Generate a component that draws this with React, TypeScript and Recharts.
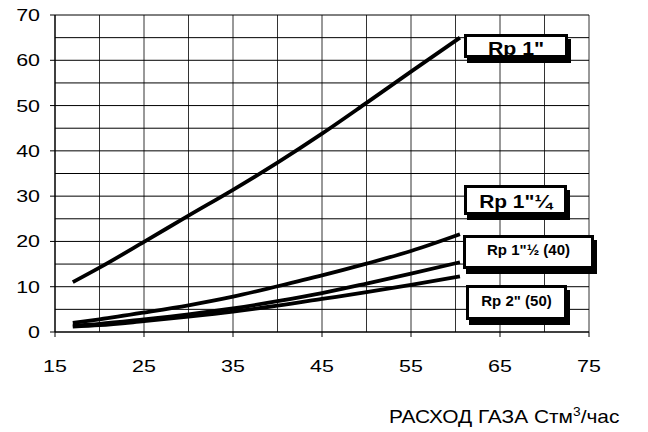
import { LineChart, Line, XAxis, YAxis, ReferenceLine } from "recharts";

// gas flow, m3/h
const flow = [17, 20, 25, 30, 35, 40, 45, 50, 55, 60.5];
const rp1 = [11.0, 14.2, 19.9, 25.7, 31.4, 37.4, 43.8, 50.6, 57.5, 65.0];
const rp114 = [2.0, 2.8, 4.3, 5.9, 7.8, 10.1, 12.5, 15.1, 17.9, 21.6];
const rp112 = [1.4, 1.8, 2.8, 3.9, 5.2, 6.8, 8.6, 10.7, 12.9, 15.4];
const rp2 = [1.2, 1.5, 2.4, 3.4, 4.5, 5.8, 7.3, 8.8, 10.4, 12.3];

const xTicks = [15, 25, 35, 45, 55, 65, 75];
const yTicks = [0, 10, 20, 30, 40, 50, 60, 70];
const xGrid = [20, 25, 30, 35, 40, 45, 50, 55, 60, 65, 70, 75];
const yGrid = [5, 10, 15, 20, 25, 30, 35, 40, 45, 50, 55, 60, 65, 70];

const seriesNames = ["rp1", "rp114", "rp112", "rp2"];

const data = flow.map((x, i) => ({
  x,
  rp1: rp1[i],
  rp114: rp114[i],
  rp112: rp112[i],
  rp2: rp2[i],
}));

const boxes = [
  { text: 'Rp 1"', left: 464, top: 34, w: 104, h: 24, cy: 48.5, fs: 18.5, sx: 1.15 },
  { text: 'Rp 1"¼', left: 464, top: 185, w: 103, h: 30, cy: 201.5, fs: 18.5, sx: 1.13 },
  { text: 'Rp 1"½ (40)', left: 463, top: 235, w: 131, h: 34, cy: 250, fs: 15, sx: 1 },
  { text: 'Rp 2" (50)', left: 466, top: 285, w: 101, h: 35, cy: 301, fs: 15, sx: 1 },
];

const font = "'Liberation Sans', Arial, sans-serif";

const YTick = (props: any) => {
  const { x, y, payload } = props;
  return (
    <text
      x={0}
      y={0}
      transform={`translate(${x},${y}) scale(1.3,1)`}
      textAnchor="end"
      dy="0.36em"
      fontSize={16.5}
      fontFamily={font}
      fill="#000"
    >
      {payload.value}
    </text>
  );
};

const XTick = (props: any) => {
  const { x, y, payload } = props;
  return (
    <text
      x={0}
      y={0}
      transform={`translate(${x},${y}) scale(1.3,1)`}
      textAnchor="middle"
      dy="0.71em"
      fontSize={16.5}
      fontFamily={font}
      fill="#000"
    >
      {payload.value}
    </text>
  );
};

export default function App() {
  return (
    <div style={{ position: "absolute", left: 0, top: 0, width: 648, height: 432, background: "#fff", fontFamily: font }}>
      <LineChart width={648} height={432} data={data} margin={{ top: 15, right: 59, left: 0, bottom: 50 }}>
        <XAxis
          dataKey="x"
          type="number"
          domain={[15, 75]}
          ticks={xTicks}
          height={50}
          tickSize={5}
          tickMargin={23}
          tick={<XTick />}
          axisLine={{ stroke: "#000", strokeWidth: 1.5 }}
          tickLine={{ stroke: "#000" }}
        />
        <YAxis
          type="number"
          domain={[0, 70]}
          ticks={yTicks}
          width={55}
          tickSize={5}
          tickMargin={10}
          tick={<YTick />}
          axisLine={{ stroke: "#000", strokeWidth: 1.5 }}
          tickLine={{ stroke: "#000" }}
        />
        {xGrid.map((v) => (
          <ReferenceLine key={"gx" + v} x={v} stroke="#333" strokeWidth={1} />
        ))}
        {yGrid.map((v) => (
          <ReferenceLine key={"gy" + v} y={v} stroke="#000" strokeWidth={1} />
        ))}
        {seriesNames.map((k) => (
          <Line
            key={k}
            dataKey={k}
            type="monotone"
            stroke="#000"
            strokeWidth={3.8}
            dot={false}
            isAnimationActive={false}
          />
        ))}
      </LineChart>

      {boxes.map((b) => (
        <div key={b.text}>
          <div
            style={{
              position: "absolute",
              left: b.left,
              top: b.top,
              width: b.w,
              height: b.h,
              boxSizing: "border-box",
              border: "3px solid #000",
              background: "#fff",
              boxShadow: "3px 5px 0 0 #000",
            }}
          />
          <div
            style={{
              position: "absolute",
              left: b.left,
              top: b.cy - 10,
              width: b.w,
              lineHeight: "20px",
              textAlign: "center",
              fontSize: b.fs,
              fontWeight: "bold",
              whiteSpace: "nowrap",
              transform: `scaleX(${b.sx})`,
            }}
          >
            {b.text}
          </div>
        </div>
      ))}

      <div
        style={{
          position: "absolute",
          left: 389,
          top: 403,
          fontSize: 19,
          lineHeight: "19px",
          whiteSpace: "nowrap",
          transform: "scaleX(1.1)",
          transformOrigin: "left center",
        }}
      >
        РАСХОД ГАЗА Стм<sup style={{ fontSize: 12.5, verticalAlign: "7px" }}>3</sup>/час
      </div>
    </div>
  );
}
